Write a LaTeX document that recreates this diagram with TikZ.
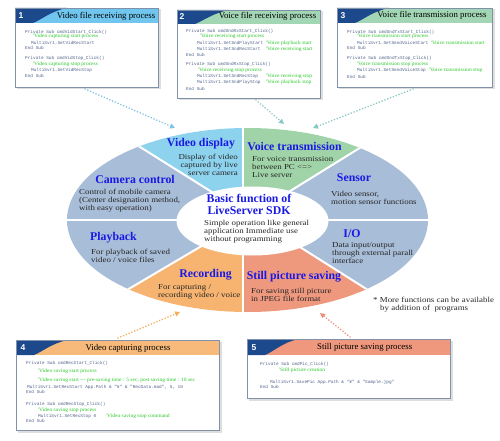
\documentclass[tikz,border=0pt]{standalone}
\usepackage{fontspec}
\setmainfont{Liberation Serif}
\newfontfamily\descfont[FakeStretch=1.17]{Liberation Serif}
\newfontfamily\cmtfont[FakeStretch=1.08]{Liberation Serif}
\newfontfamily\codefnt{Liberation Mono}
\newfontfamily\numfnt{Liberation Sans}
\usetikzlibrary{arrows.meta}
\definecolor{ttlblue}{RGB}{25,25,230}
\definecolor{segcyan}{RGB}{142,211,238}
\definecolor{seggreen}{RGB}{160,212,168}
\definecolor{seggray}{RGB}{168,189,215}
\definecolor{segorange}{RGB}{246,180,112}
\definecolor{segsalmon}{RGB}{238,152,126}
\definecolor{hdrblue}{RGB}{112,198,238}
\definecolor{hdrgreen}{RGB}{163,214,180}
\definecolor{hdrorange}{RGB}{247,186,122}
\definecolor{hdrsalmon}{RGB}{239,152,126}
\definecolor{navy}{RGB}{28,72,140}
\definecolor{boxborder}{RGB}{130,145,170}
\definecolor{shadowgray}{RGB}{222,222,222}
\definecolor{codegray}{RGB}{80,98,138}
\definecolor{cmtgreen}{RGB}{40,200,40}
\definecolor{arrcyan}{RGB}{130,195,230}
\definecolor{arrteal}{RGB}{135,200,195}
\definecolor{arrorange}{RGB}{245,175,90}
\definecolor{arrsalmon}{RGB}{238,140,120}
\newcommand{\mkbox}[6]{%
  \fill[shadowgray] (#1+1.5,#2+1.5) rectangle (#3+2.5,#4+2.5);
  \fill[white] (#1,#2) rectangle (#3,#4);
  \fill[#6] (#1,#2) rectangle (#3,#5);
  \fill[navy] (#1,#2) -- (#1+52,#2) .. controls (#1+36,#2+3) and (#1+26,#5-3) .. (#1+18,#5) -- (#1,#5) -- cycle;
  \draw[boxborder, line width=0.8pt] (#1,#2) rectangle (#3,#4);
}
\begin{document}
\begin{tikzpicture}[x=1pt,y=-1pt,
  ttl/.style={font=\fontsize{11.8}{11.5}\selectfont\bfseries, text=ttlblue, inner sep=0, align=center},
  dsc/.style={font=\descfont\fontsize{7.6}{8.2}\selectfont, text=black!85, inner sep=0, align=left, anchor=north west},
  hdr/.style={font=\fontsize{8.8}{9}\selectfont, inner sep=0},
  num/.style={font=\numfnt\bfseries\fontsize{8.5}{9}\selectfont, text=white, inner sep=0},
  code/.style={font=\codefnt\fontsize{4.4}{5}\selectfont, text=codegray, inner sep=0, anchor=west},
  cmt/.style={font=\cmtfont\fontsize{5.1}{5.5}\selectfont, text=cmtgreen, inner sep=0, anchor=west},
  sep/.style={white, line width=2pt},
  dotarrow/.style={line width=1.8pt, line cap=round, dash pattern=on 0.01pt off 3pt, -{Triangle[length=5pt,width=5pt]}}
]
\useasboundingbox (0,0) rectangle (500,441);

% ---------- central diagram ----------
\coordinate (P) at (252,221);
\coordinate (I1) at (243,200);   \coordinate (O1) at (243,100);
\coordinate (I2) at (215.5,194.3); \coordinate (O2) at (97.6,120.4);
\coordinate (I3) at (186,220);   \coordinate (O3) at (40,220);
\coordinate (I4) at (208.6,241.9); \coordinate (O4) at (92.5,310.3);
\coordinate (I5) at (243,244);   \coordinate (O5) at (243,340);
\coordinate (I6) at (291.5,241.7); \coordinate (O6) at (401.8,311.4);
\coordinate (I7) at (318,220);   \coordinate (O7) at (460,220);
\coordinate (I8) at (286.5,193.3); \coordinate (O8) at (400.5,122.7);
\begin{scope}
  \clip (247.5,220) ellipse [x radius=180.5, y radius=92];
  \fill[segcyan] (P) -- (I1) -- (O1) -- (97.6,100) -- (O2) -- (I2) -- cycle;
  \fill[seggray] (P) -- (I2) -- (O2) -- (40,120.4) -- (O3) -- (I3) -- cycle;
  \fill[seggray] (P) -- (I3) -- (O3) -- (40,310.3) -- (O4) -- (I4) -- cycle;
  \fill[segorange] (P) -- (I4) -- (O4) -- (92.5,340) -- (O5) -- (I5) -- cycle;
  \fill[segsalmon] (P) -- (I5) -- (O5) -- (401.8,340) -- (O6) -- (I6) -- cycle;
  \fill[seggray] (P) -- (I6) -- (O6) -- (460,311.4) -- (O7) -- (I7) -- cycle;
  \fill[seggray] (P) -- (I7) -- (O7) -- (460,122.7) -- (O8) -- (I8) -- cycle;
  \fill[seggreen] (P) -- (I8) -- (O8) -- (400.5,100) -- (O1) -- (I1) -- cycle;
  \draw[sep] (I1) -- (O1); \draw[sep] (I2) -- (O2); \draw[sep] (I3) -- (O3);
  \draw[sep] (I4) -- (O4); \draw[sep] (I5) -- (O5); \draw[sep] (I6) -- (O6);
  \draw[sep] (I7) -- (O7); \draw[sep] (I8) -- (O8);
\end{scope}
\fill[white] (252.5,221) ellipse [x radius=76, y radius=34.5];

% titles
\node[ttl] (tvid) at (201,144) {Video display};
\node[ttl] (tvoi) at (294.5,146) {Voice transmission};
\node[ttl] (tcam) at (135,179) {Camera control};
\node[ttl] (tsen) at (354,178) {Sensor};
\node[ttl] (tbas) at (249,204.5) {Basic function of\\LiveServer SDK};
\node[ttl] (tpla) at (113.5,238) {Playback};
\node[ttl] (trec) at (205.5,275) {Recording};
\node[ttl] (tio)  at (352,234) {I/O};
\node[ttl] (tsti) at (294,277) {Still picture saving};

% descriptions
\node[dsc, anchor=north east, align=right] (dvid) at (238,153.8) {Display of video\\captured by live\\server camera};
\node[dsc] (dvoi) at (252,156) {For voice transmission\\between PC <=>\\Live server};
\node[dsc] (dcam) at (79,188.8) {Control of mobile camera\\(Center designation method,\\with easy operation)};
\node[dsc] (dsen) at (331,190.8) {Video sensor,\\motion sensor functions};
\node[dsc] (dbas) at (204,219.8) {Simple operation like general\\application Immediate use\\without programming};
\node[dsc] (dpla) at (91,248.8) {For playback of saved\\video / voice files};
\node[dsc] (drec) at (158,283.8) {For capturing /\\recording video / voice};
\node[dsc] (dio)  at (332,241.8) {Data input/output\\through external parall\\interface};
\node[dsc] (dsti) at (251,287.8) {For saving still picture\\in JPEG file format};
\node[dsc] (note1) at (373,296.8) {* More functions can be available};
\node[dsc] (note2) at (380,304.8) {by addition of~ programs};

% ---------- box 1 ----------
\mkbox{15}{8}{158}{87}{23}{hdrblue}
\node[hdr] (h1) at (106,16) {Video file receiving process};
\node[num] (n1) at (21,15.5) {1};
\node[code] (c1a) at (25,32.3) {Private Sub cmdVidStart\_Click()};
\node[cmt]  (c1b) at (33,36.7) {'Video capturing start process};
\node[code] (c1c) at (31,43.3) {MultiSvr1.SetVidRecStart};
\node[code] (c1d) at (25,48.3) {End Sub};
\node[code] (c1e) at (25,58.3) {Private Sub cmdVidStop\_Click()};
\node[cmt]  (c1f) at (33,64) {'Video capturing stop process};
\node[code] (c1g) at (31,70) {MultiSvr1.SetVidRecStop};
\node[code] (c1h) at (25,76) {End Sub};

% ---------- box 2 ----------
\mkbox{177}{10}{320}{98}{24}{hdrgreen}
\node[hdr] (h2) at (267.5,16.5) {Voice file receiving process};
\node[num] (n2) at (182,16.5) {2};
\node[code] (c2a) at (186,31) {Private Sub cmdSndRxStart\_Click()};
\node[cmt]  (c2b) at (200,36.7) {'Voice receiving start process};
\node[code] (c2c) at (197,43) {MultiSvr1.SetSndPlayStart};
\node[cmt]  (c2d) at (266,43) {'Voice playback start};
\node[code] (c2e) at (197,49.3) {MultiSvr1.SetSndRecStart};
\node[cmt]  (c2f) at (266,49.3) {'Voice receiving start};
\node[code] (c2g) at (186,55) {End Sub};
\node[code] (c2h) at (186,64.3) {Private Sub cmdSndRxStop\_Click()};
\node[cmt]  (c2i) at (198,70.7) {'Voice receiving stop process};
\node[code] (c2j) at (197,76.7) {MultiSvr1.SetSndRecStop};
\node[cmt]  (c2k) at (266,76.7) {'Voice receiving stop};
\node[code] (c2l) at (197,82.7) {MultiSvr1.SetSndPlayStop};
\node[cmt]  (c2m) at (266,82.7) {'Voice playback stop};
\node[code] (c2n) at (186,88.7) {End Sub};

% ---------- box 3 ----------
\mkbox{337}{8}{492}{87}{23}{hdrgreen}
\node[hdr] (h3) at (432,15.7) {Voice file transmission process};
\node[num] (n3) at (343,15.5) {3};
\node[code] (c3a) at (347,32.7) {Private Sub cmdSndTxStart\_Click()};
\node[cmt]  (c3b) at (357,36.7) {'Voice transmission start process};
\node[code] (c3c) at (357,42.7) {MultiSvr1.SetSendVoiceStart};
\node[cmt]  (c3d) at (431,42.7) {'Voice transmission start};
\node[code] (c3e) at (347,48.3) {End Sub};
\node[code] (c3f) at (347,58.7) {Private Sub cmdSndTxStop\_Click()};
\node[cmt]  (c3g) at (357,64) {'Voice transmission stop process};
\node[code] (c3h) at (357,70.7) {MultiSvr1.SetSendVoiceStop};
\node[cmt]  (c3i) at (429,70.7) {'Voice transmission stop};
\node[code] (c3j) at (347,76.7) {End Sub};

% ---------- box 4 ----------
\mkbox{16}{340}{219}{430}{355}{hdrorange}
\node[hdr] (h4) at (128,348) {Video capturing process};
\node[num] (n4) at (23,347.5) {4};
\node[code] (c4a) at (26,363.3) {Private Sub cmdRecStart\_Click()};
\node[cmt]  (c4b) at (38,371.3) {'Video saving start process};
\node[cmt]  (c4c) at (38,380.7) {'Video saving start -{}-{}- pre-saving time : 5 sec, post saving time : 10 sec};
\node[code] (c4d) at (27,387.3) {MultiSvr1.SetRecStart App.Path \& "¥" \& "RecData.mod", 5, 10};
\node[code] (c4e) at (26,392.3) {End Sub};
\node[code] (c4f) at (26,404) {Private Sub cmdRecStop\_Click()};
\node[cmt]  (c4g) at (38,410) {'Video saving stop process};
\node[code] (c4h) at (38,416) {MultiSvr1.SetRecStop 0};
\node[cmt]  (c4i) at (106,416) {'Video saving stop command};
\node[code] (c4j) at (26,421.3) {End Sub};

% ---------- box 5 ----------
\mkbox{247}{339}{450}{398}{355}{hdrsalmon}
\node[hdr] (h5) at (364.7,347.7) {Still picture saving process};
\node[num] (n5) at (254,347.5) {5};
\node[code] (c5a) at (260,364.3) {Private Sub cmdPic\_Click()};
\node[cmt]  (c5b) at (279,370) {'Still picture creation};
\node[code] (c5c) at (270,382) {MultiSvr1.SavePic App.Path \& "¥" \& "Sample.jpg"};
\node[code] (c5d) at (260,387.3) {End Sub};

% ---------- arrows ----------
\coordinate (a1s) at (85,89);   \coordinate (a1e) at (175,128);
\coordinate (a2s) at (256,100); \coordinate (a2e) at (284,124);
\coordinate (a3s) at (413,89);  \coordinate (a3e) at (313,128);
\coordinate (a4s) at (118,338); \coordinate (a4e) at (180,312);
\coordinate (a5s) at (350,337); \coordinate (a5e) at (320,313);
\draw[dotarrow, arrcyan] (a1s) -- (a1e);
\draw[dotarrow, arrteal] (a2s) -- (a2e);
\draw[dotarrow, arrteal] (a3s) -- (a3e);
\draw[dotarrow, arrorange] (a4s) -- (a4e);
\draw[dotarrow, arrsalmon] (a5s) -- (a5e);
\end{tikzpicture}
\end{document}
